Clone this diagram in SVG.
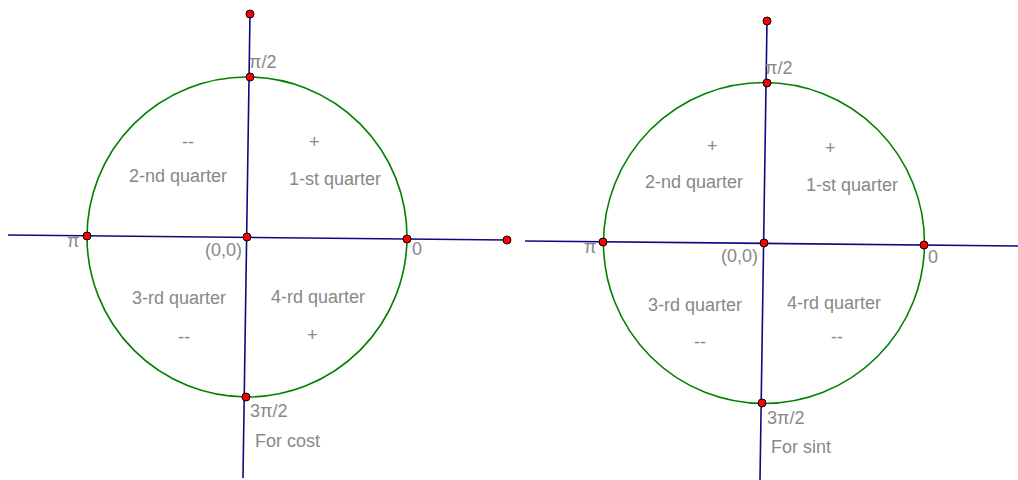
<svg xmlns="http://www.w3.org/2000/svg" width="1018" height="480" viewBox="0 0 1018 480">
<style>
.axis{stroke:#0c0c82;stroke-width:1.6;fill:none}
.circ{stroke:#008000;stroke-width:1.6;fill:none}
.pt{fill:#ff0000;stroke:#000;stroke-width:1}
text{font-family:"Liberation Sans",Arial,sans-serif;font-size:18px;fill:#888888}
</style>
<rect width="1018" height="480" fill="#ffffff"/>
<g id="connectors">
<line class="axis" x1="8" y1="235" x2="507" y2="240"/>
<line class="axis" x1="250" y1="14" x2="243" y2="478"/>
<line class="axis" x1="525" y1="241" x2="1018" y2="246"/>
<line class="axis" x1="767" y1="21" x2="760" y2="480"/>
</g>
<g id="circle-left"><circle class="circ" cx="247" cy="237" r="160"/></g>
<g id="circle-right"><circle class="circ" cx="764" cy="243" r="160.5"/></g>
<g id="points-left">
<circle class="pt" cx="250" cy="14" r="4"/>
<circle class="pt" cx="250" cy="77" r="4"/>
<circle class="pt" cx="87" cy="236" r="4"/>
<circle class="pt" cx="247" cy="237" r="4"/>
<circle class="pt" cx="407" cy="239" r="4"/>
<circle class="pt" cx="507" cy="240" r="4"/>
<circle class="pt" cx="246" cy="397" r="4"/>
</g>
<g id="points-right">
<circle class="pt" cx="767" cy="21" r="4"/>
<circle class="pt" cx="767" cy="83" r="4"/>
<circle class="pt" cx="603" cy="242" r="4"/>
<circle class="pt" cx="764" cy="243" r="4"/>
<circle class="pt" cx="924" cy="245" r="4"/>
<circle class="pt" cx="762" cy="403" r="4"/>
</g>
<g id="labels-left">
<text x="249" y="68">π/2</text>
<text x="67" y="247">π</text>
<text x="205" y="256">(0,0)</text>
<text x="412" y="255">0</text>
<text x="250" y="417">3π/2</text>
<text x="255" y="447">For cost</text>
<text x="182" y="148">--</text>
<text x="309" y="148">+</text>
<text x="129" y="182">2-nd quarter</text>
<text x="289" y="185">1-st quarter</text>
<text x="132" y="304">3-rd quarter</text>
<text x="271" y="303">4-rd quarter</text>
<text x="178" y="343">--</text>
<text x="307" y="341">+</text>
</g>
<g id="labels-right">
<text x="765" y="74">π/2</text>
<text x="584" y="253">π</text>
<text x="721" y="262">(0,0)</text>
<text x="928" y="263">0</text>
<text x="767" y="424">3π/2</text>
<text x="771" y="453">For sint</text>
<text x="707" y="152">+</text>
<text x="825" y="154">+</text>
<text x="645" y="188">2-nd quarter</text>
<text x="806" y="191">1-st quarter</text>
<text x="648" y="311">3-rd quarter</text>
<text x="787" y="309">4-rd quarter</text>
<text x="694" y="348">--</text>
<text x="831" y="343">--</text>
</g>
</svg>
